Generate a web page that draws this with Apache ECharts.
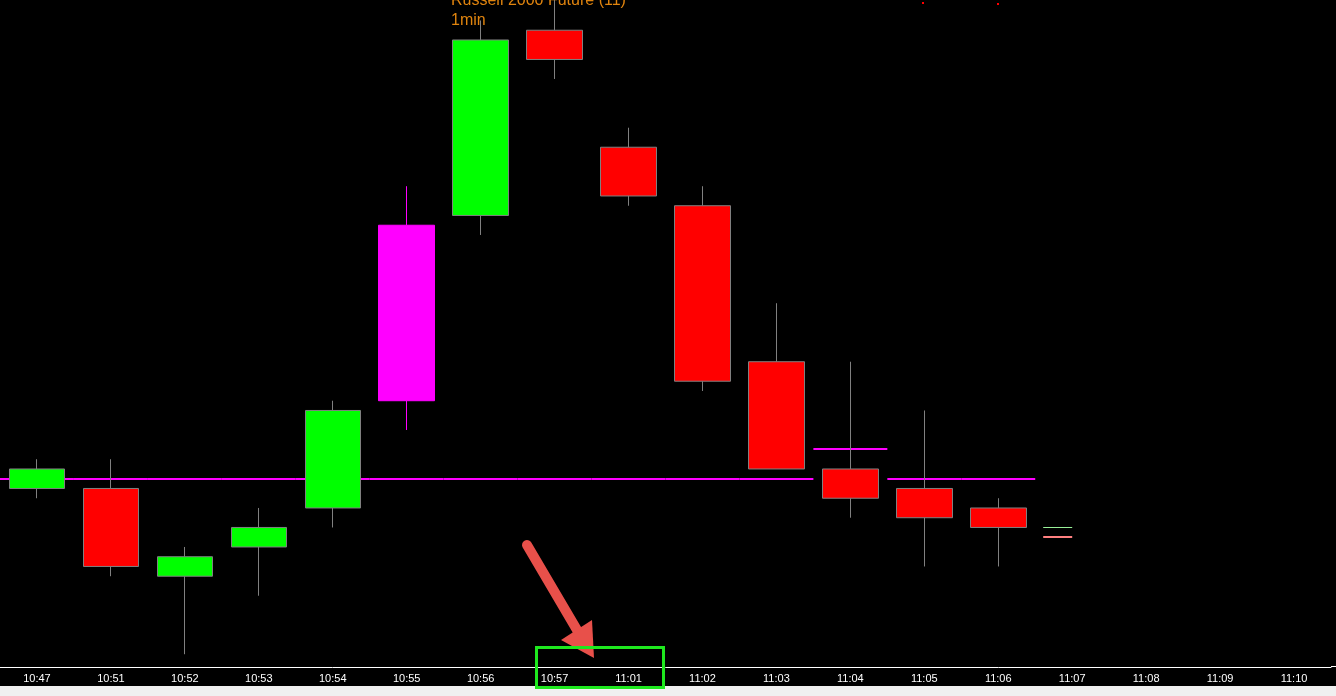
<!DOCTYPE html>
<html>
<head>
<meta charset="utf-8">
<title>Russell 2000 Future 1min</title>
<script src="https://cdn.jsdelivr.net/npm/echarts@6.0.0/dist/echarts.min.js"></script>
<style>
  html, body { margin: 0; padding: 0; background: #000; }
  #chart { width: 1336px; height: 696px; }
</style>
</head>
<body>
<div id="chart"></div>
<script>
const times = ['10:47', '10:51', '10:52', '10:53', '10:54', '10:55', '10:56', '10:57', '11:01',
  '11:02', '11:03', '11:04', '11:05', '11:06', '11:07', '11:08', '11:09', '11:10']

// open, close, low, high
const candles = [
  [2029.8, 2030.0, 2029.7, 2030.1],
  [2029.8, 2029.0, 2028.9, 2030.1],
  [2028.9, 2029.1, 2028.1, 2029.2],
  [2029.2, 2029.4, 2028.7, 2029.6],
  [2029.6, 2030.6, 2029.4, 2030.7],
  [2030.7, 2032.5, 2030.4, 2032.9],
  [2032.6, 2034.4, 2032.4, 2034.6],
  [2034.5, 2034.2, 2034.0, 2034.9],
  [2033.3, 2032.8, 2032.7, 2033.5],
  [2032.7, 2030.9, 2030.8, 2032.9],
  [2031.1, 2030.0, 2030.0, 2031.7],
  [2030.0, 2029.7, 2029.5, 2031.1],
  [2029.8, 2029.5, 2029.0, 2030.6],
  [2029.6, 2029.4, 2029.0, 2029.7]
]

// per-bar reference level (magenta steps)
const levels = [2029.9, 2029.9, 2029.9, 2029.9, 2029.9, 2029.9, 2029.9, 2029.9, 2029.9,
  2029.9, 2029.9, 2030.2, 2029.9, 2029.9]

// last quote markers in the next empty slot
const quoteSlot = '11:07'
const quoteLevels = [2029.4, 2029.3]

const paintedBar = '10:55'

const yMin = 2027.969
const yMax = 2034.810

const chart = echarts.init(document.getElementById('chart'), null, { renderer: 'canvas' })

const quoteColors = ['#98f098', '#ff8080']
const quoteWidths = [1, 2]

const option = {
  backgroundColor: '#000',
  animation: false,
  grid: { left: -1, right: 5, top: 0, bottom: 29 },
  xAxis: {
    type: 'category',
    data: times,
    boundaryGap: true,
    axisLine: { lineStyle: { color: '#fff', width: 1 } },
    axisTick: { alignWithLabel: true, length: 3, lineStyle: { color: '#fff' } },
    axisLabel: { color: '#fff', fontSize: 11, fontFamily: 'Liberation Sans', margin: 6, interval: 0 },
    splitLine: { show: false }
  },
  yAxis: {
    type: 'value',
    show: false,
    min: yMin,
    max: yMax,
    splitLine: { show: false }
  },
  series: [
    {
      type: 'custom',
      z: 1,
      data: levels.map((v, i) => [i, v]),
      encode: { x: 0, y: 1 },
      renderItem: (params, api) => {
        const p = api.coord([api.value(0), api.value(1)])
        const w = api.size([1, 0])[0]
        const y = Math.round(p[1])
        return {
          type: 'line',
          shape: { x1: p[0] - w / 2, y1: y, x2: p[0] + w / 2, y2: y },
          style: { stroke: '#ff00ff', lineWidth: 2 }
        }
      }
    },
    {
      type: 'candlestick',
      z: 2,
      barWidth: 56,
      data: candles.map((c, i) => {
        if (times[i] === paintedBar) {
          return { value: c, itemStyle: { color: '#ff00ff', borderColor: '#ff00ff' } }
        }
        return c
      }),
      itemStyle: {
        color: '#00ff00',
        color0: '#ff0000',
        borderColor: '#808080',
        borderColor0: '#808080',
        borderWidth: 1
      }
    },
    {
      type: 'custom',
      z: 3,
      data: quoteLevels.map(v => [quoteSlot, v]),
      encode: { x: 0, y: 1 },
      renderItem: (params, api) => {
        const p = api.coord([api.value(0), api.value(1)])
        const lw = quoteWidths[params.dataIndex]
        const y = lw % 2 ? Math.round(p[1]) + 0.5 : Math.round(p[1])
        return {
          type: 'line',
          shape: { x1: p[0] - 29, y1: y, x2: p[0], y2: y },
          style: { stroke: quoteColors[params.dataIndex], lineWidth: lw }
        }
      }
    }
  ],
  graphic: [
    { type: 'rect', z: 50, shape: { x: 0, y: 686, width: 1336, height: 10 }, style: { fill: '#f0f0f0' } },
    { type: 'line', z: 50, shape: { x1: 1331, y1: 666.5, x2: 1336, y2: 666.5 }, style: { stroke: '#fff', lineWidth: 1 } },
    {
      type: 'text', z: 60, x: 451, y: 1,
      style: { text: 'Russell 2000 Future (11)', fill: '#e0840e', font: '16px "Liberation Sans"', verticalAlign: 'middle' }
    },
    {
      type: 'text', z: 60, x: 451, y: 21,
      style: { text: '1min', fill: '#e0840e', font: '16px "Liberation Sans"', verticalAlign: 'middle' }
    },
    { type: 'rect', z: 60, shape: { x: 922, y: 2, width: 2, height: 2 }, style: { fill: '#ff0000' } },
    { type: 'rect', z: 60, shape: { x: 997, y: 3, width: 2, height: 2 }, style: { fill: '#ff0000' } },
    // annotation: arrow and box
    {
      type: 'line', z: 100,
      shape: { x1: 527, y1: 545, x2: 577, y2: 630 },
      style: { stroke: '#e8504a', lineWidth: 10, lineCap: 'round' }
    },
    {
      type: 'polygon', z: 100,
      shape: { points: [[561, 640], [592, 620], [594, 658]] },
      style: { fill: '#e8504a' }
    },
    {
      type: 'rect', z: 100,
      shape: { x: 536.5, y: 647.5, width: 127, height: 40 },
      style: { fill: 'none', stroke: '#1ee81e', lineWidth: 3 }
    }
  ]
}

chart.setOption(option)
</script>
</body>
</html>
